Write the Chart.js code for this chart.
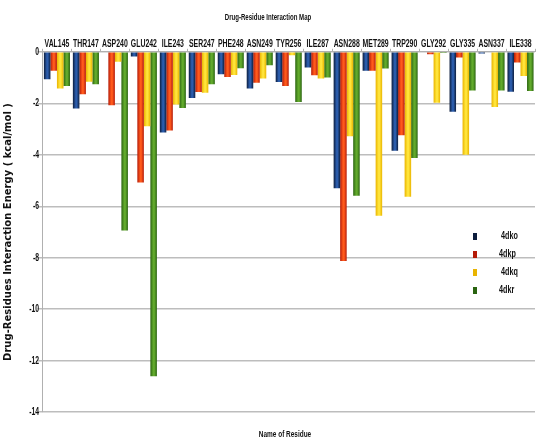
<!DOCTYPE html>
<html>
<head>
<meta charset="utf-8">
<script src="https://cdn.jsdelivr.net/npm/chart.js@4.4.1/dist/chart.umd.min.js"></script>
<style>
  html, body { margin: 0; padding: 0; background: #fff; }
  #wrap { width: 539px; height: 439px; }
</style>
</head>
<body>
<div id="wrap"><canvas id="chart"></canvas></div>
<script>
// residues along the top axis
const residues = ['VAL145', 'THR147', 'ASP240', 'GLU242', 'ILE243', 'SER247', 'PHE248', 'ASN249',
  'TYR256', 'ILE287', 'ASN288', 'MET289', 'TRP290', 'GLY292', 'GLY335', 'ASN337', 'ILE338'];

// interaction energies (kcal/mol)
const e4dko = [-1.07, -2.2, 0, -0.18, -3.13, -1.79, -0.87, -1.43, -1.17, -0.61, -5.3, -0.74, -3.84, 0, -2.33, -0.07, -1.55];
const e4dkp = [-0.74, -1.65, -2.08, -5.08, -3.06, -1.56, -0.98, -1.2, -1.33, -0.91, -8.13, -0.74, -3.24, -0.1, -0.22, 0, -0.42];
const e4dkq = [-1.43, -1.16, -0.39, -2.89, -2.05, -1.59, -0.9, -1.04, -0.13, -1.04, -3.28, -6.37, -5.63, -1.98, -4.0, -2.14, -0.94];
const e4dkr = [-1.33, -1.26, -6.94, -12.6, -2.18, -1.26, -0.64, -0.52, -1.95, -1.0, -5.59, -0.65, -4.13, -0.05, -1.5, -1.5, -1.52];

const yTicks = [0, -2, -4, -6, -8, -10, -12, -14];

// edge / middle colours of the shaded bars
const shades = [
  ['#0c1d3d', '#2b5cab'],
  ['#b41a08', '#ff5a1c'],
  ['#e9b400', '#ffe43a'],
  ['#2a6410', '#62aa2c']
];

const sans = "'Liberation Sans', Arial, sans-serif";

function barFill(ctx) {
  const s = shades[ctx.datasetIndex];
  const el = ctx.element;
  if (!el || el.x == null || el.width == null) return s[1];
  const x0 = el.x - el.width / 2, x1 = el.x + el.width / 2;
  const g = ctx.chart.ctx.createLinearGradient(x0, 0, x1, 0);
  g.addColorStop(0, s[0]);
  g.addColorStop(0.45, s[1]);
  g.addColorStop(0.6, s[1]);
  g.addColorStop(1, s[0]);
  return g;
}

// condensed text, the original uses a narrow face
function narrowText(c, txt, x, y, size, align, squeeze) {
  c.save();
  c.font = 'bold ' + size + 'px ' + sans;
  c.textBaseline = 'middle';
  c.textAlign = align;
  c.translate(x, y);
  c.scale(squeeze, 1);
  c.fillText(txt, 0, 0);
  c.restore();
}

const textPlugin = {
  id: 'textPlugin',
  afterDraw(chart) {
    const c = chart.ctx;
    c.fillStyle = '#111';
    const xs = chart.scales.x, ys = chart.scales.y;
    residues.forEach((r, i) => narrowText(c, r, xs.getPixelForTick(i), 44, 11.5, 'center', 0.6));
    yTicks.forEach(v => narrowText(c, String(v), 39, ys.getPixelForValue(v), 10.5, 'right', 0.65));
    narrowText(c, 'Drug-Residue Interaction Map', 268, 17, 9.5, 'center', 0.64);
    narrowText(c, 'Name of Residue', 285, 434, 9.5, 'center', 0.68);

    // legend drawn over the plot, like the original
    const rows = [236, 254, 272, 290];
    chart.data.datasets.forEach((ds, i) => {
      c.fillStyle = shades[i][0];
      c.fillRect(473, rows[i] - 3, 4, 7);
      c.fillStyle = '#111';
      narrowText(c, ds.label, i % 2 ? 499 : 501, rows[i], 10, 'left', 0.72);
    });
  }
};

const chart = new Chart(document.getElementById('chart'), {
  type: 'bar',
  data: {
    labels: residues,
    datasets: [
      { label: '4dko', data: e4dko, borderColor: shades[0][0] },
      { label: '4dkp', data: e4dkp, borderColor: shades[1][0] },
      { label: '4dkq', data: e4dkq, borderColor: shades[2][0] },
      { label: '4dkr', data: e4dkr, borderColor: shades[3][0] }
    ]
  },
  options: {
    responsive: true,
    maintainAspectRatio: false,
    animation: false,
    layout: { padding: { top: 0, right: 4, left: 2, bottom: 0 } },
    datasets: {
      bar: { backgroundColor: barFill, borderWidth: 0, categoryPercentage: 0.9, barPercentage: 1.0 }
    },
    scales: {
      x: {
        position: 'top',
        grid: { drawOnChartArea: false, drawTicks: true, tickLength: 3, color: '#b0b0b0', offset: true },
        border: { color: '#b0b0b0' },
        ticks: { color: 'transparent', font: { family: sans, size: 10 }, maxRotation: 0, autoSkip: false, padding: 2 }
      },
      y: {
        min: -14,
        max: 0,
        afterBuildTicks: (axis) => { axis.ticks = yTicks.map(v => ({ value: v })); },
        grid: { color: '#bdbdbd', lineWidth: 1.5, tickLength: 5 },
        border: { color: '#b0b0b0' },
        ticks: { color: 'transparent', font: { family: sans, size: 10 }, padding: 0 },
        title: {
          display: true,
          text: 'Drug-Residues Interaction Energy ( kcal/mol )',
          color: '#111',
          font: { family: "'DejaVu Sans', sans-serif", size: 10, weight: 'bold' },
          padding: { top: 0, bottom: 9 }
        }
      }
    },
    plugins: {
      legend: { display: false },
      tooltip: { enabled: false },
      title: {
        display: true,
        text: 'Drug-Residue Interaction Map',
        color: 'transparent',
        font: { family: sans, size: 9 },
        padding: { top: 10, bottom: 12 }
      },
      subtitle: {
        display: true,
        position: 'bottom',
        text: 'Name of Residue',
        color: 'transparent',
        font: { family: sans, size: 9 },
        padding: { top: 14, bottom: 2 }
      }
    }
  },
  plugins: [textPlugin]
});
// second pass so the gradients know where each bar sits
chart.update();
</script>
</body>
</html>
